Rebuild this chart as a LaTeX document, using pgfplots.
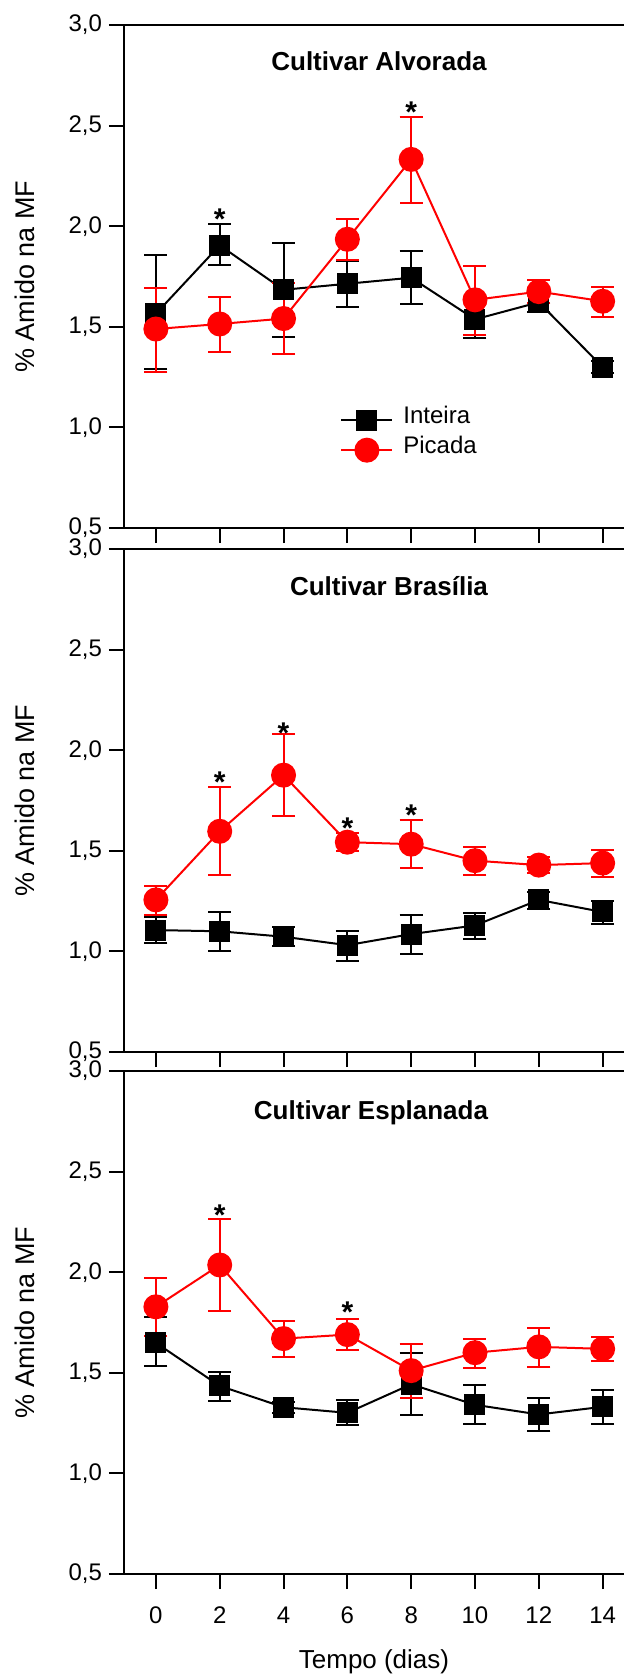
\documentclass[border=0pt]{standalone}
\usepackage{fontspec}
\setmainfont{Liberation Sans}
\usepackage{pgfplots}
\pgfplotsset{compat=1.18}
\pgfplotsset{
 panel/.style={
  scale only axis, width=250pt, height=251.5pt,
  xmin=-1, xmax=14.67, ymin=0.5, ymax=3.0, enlargelimits=false,
  axis lines=left, axis line style={-, line width=1pt},
  xtick={0,2,...,14}, ytick={0.5,1.0,1.5,2.0,2.5,3.0},
  tick align=outside, major tick length=7.5pt, tick style={line width=1pt, black},
  /pgf/number format/assume math mode=true,
  y tick label style={/pgf/number format/.cd, fixed, fixed zerofill, precision=1, use comma},
  tick label style={font=\fontsize{12}{14}\selectfont},
  ylabel={\% Amido na MF},
  ylabel style={font=\fontsize{13.5}{16}\selectfont, at={(axis description cs:-0.198,0.5)}, anchor=center},
  clip=false,
  extra description/.code={\draw[line width=1pt] (rel axis cs:0,1) -- (rel axis cs:1,1);},
 },
 inteira/.style={black, line width=1pt, mark=square*, mark size=4.75pt, mark options={solid, fill=black},
   error bars/.cd, y dir=both, y explicit, error bar style={line width=1pt},
   error mark options={rotate=90, mark size=5.75pt, line width=1pt}},
 picada/.style={red, line width=1pt, mark=*, mark size=5.75pt, mark options={solid, fill=red},
   error bars/.cd, y dir=both, y explicit, error bar style={line width=1pt},
   error mark options={rotate=90, mark size=5.75pt, line width=1pt}},
}
\tikzset{
 ast/.style={font=\bfseries\fontsize{15}{17}\selectfont, anchor=base, yshift=-8.7pt},
 ttl/.style={font=\bfseries\fontsize{13}{15}\selectfont},
}
\begin{document}
\begin{tikzpicture}
\path[use as bounding box] (-62pt,12.5pt) rectangle (250pt,-825.5pt);
% Panel 1
\begin{axis}[panel, at={(0pt,0pt)}, anchor=north west, xticklabels={},
  legend style={draw=none, fill=none, at={(rel axis cs:0.432,0.245)}, anchor=north west,
    inner sep=0pt, row sep=0pt, column sep=5pt,
    nodes={inner sep=0pt, text height=9pt, text depth=6pt, font=\fontsize{12}{14}\selectfont}},
  legend cell align=left,
  legend image code/.code={\draw[mark repeat=2,mark phase=2,#1] plot coordinates {(0pt,0pt) (12.75pt,0pt) (25.5pt,0pt)};}]
\addplot[inteira] coordinates {
 (0,1.565) += (0,0.29) -= (0,0.275)
 (2,1.905) += (0,0.105) -= (0,0.10)
 (4,1.684) += (0,0.235) -= (0,0.234)
 (6,1.714) += (0,0.115) -= (0,0.114)
 (8,1.744) += (0,0.132) -= (0,0.131)
 (10,1.537) += (0,0.095) -= (0,0.095)
 (12,1.622) += (0,0.05) -= (0,0.05)
 (14,1.30) += (0,0.03) -= (0,0.03)
};
\addlegendentry{Inteira}
\addplot[picada] coordinates {
 (0,1.489) += (0,0.204) -= (0,0.212)
 (2,1.514) += (0,0.136) -= (0,0.139)
 (4,1.541) += (0,0.176) -= (0,0.177)
 (6,1.935) += (0,0.102) -= (0,0.105)
 (8,2.332) += (0,0.209) -= (0,0.215)
 (10,1.634) += (0,0.166) -= (0,0.176)
 (12,1.675) += (0,0.056) -= (0,0.058)
 (14,1.627) += (0,0.073) -= (0,0.076)
};
\addlegendentry{Picada}
\node[ttl] at (rel axis cs:0.51,1) [yshift=-18pt] {Cultivar Alvorada};
\node[ast] at (axis cs:2,2.07) {*};
\node[ast] at (axis cs:8,2.60) {*};
\end{axis}
% Panel 2
\begin{axis}[panel, at={(0pt,-262pt)}, anchor=north west, xticklabels={}]
\addplot[inteira] coordinates {
 (0,1.106) += (0,0.067) -= (0,0.065)
 (2,1.10) += (0,0.095) -= (0,0.097)
 (4,1.073) += (0,0.047) -= (0,0.048)
 (6,1.031) += (0,0.069) -= (0,0.077)
 (8,1.086) += (0,0.097) -= (0,0.101)
 (10,1.129) += (0,0.064) -= (0,0.066)
 (12,1.256) += (0,0.041) -= (0,0.045)
 (14,1.196) += (0,0.057) -= (0,0.059)
};
\addplot[picada] coordinates {
 (0,1.256) += (0,0.069) -= (0,0.076)
 (2,1.597) += (0,0.218) -= (0,0.217)
 (4,1.876) += (0,0.203) -= (0,0.201)
 (6,1.543) += (0,0.044) -= (0,0.046)
 (8,1.533) += (0,0.119) -= (0,0.12)
 (10,1.451) += (0,0.069) -= (0,0.071)
 (12,1.429) += (0,0.038) -= (0,0.039)
 (14,1.439) += (0,0.066) -= (0,0.068)
};
\node[ttl] at (rel axis cs:0.53,1) [yshift=-18.5pt] {Cultivar Brasília};
\node[ast] at (axis cs:2,1.875) {*};
\node[ast] at (axis cs:4,2.12) {*};
\node[ast] at (axis cs:6,1.65) {*};
\node[ast] at (axis cs:8,1.71) {*};
\end{axis}
% Panel 3
\begin{axis}[panel, at={(0pt,-523pt)}, anchor=north west,
  x tick label style={yshift=-5.5pt},
  xlabel={Tempo (dias)},
  xlabel style={font=\fontsize{13}{15}\selectfont, at={(axis description cs:0.5,-0.175)}, anchor=center}]
\addplot[inteira] coordinates {
 (0,1.649) += (0,0.129) -= (0,0.116)
 (2,1.435) += (0,0.069) -= (0,0.073)
 (4,1.329) += (0,0.027) -= (0,0.029)
 (6,1.301) += (0,0.065) -= (0,0.061)
 (8,1.443) += (0,0.155) -= (0,0.154)
 (10,1.341) += (0,0.096) -= (0,0.097)
 (12,1.293) += (0,0.081) -= (0,0.08)
 (14,1.331) += (0,0.084) -= (0,0.083)
};
\addplot[picada] coordinates {
 (0,1.828) += (0,0.143) -= (0,0.146)
 (2,2.036) += (0,0.228) -= (0,0.228)
 (4,1.670) += (0,0.087) -= (0,0.09)
 (6,1.690) += (0,0.077) -= (0,0.079)
 (8,1.511) += (0,0.134) -= (0,0.135)
 (10,1.600) += (0,0.067) -= (0,0.075)
 (12,1.629) += (0,0.096) -= (0,0.1)
 (14,1.619) += (0,0.059) -= (0,0.062)
};
\node[ttl] at (rel axis cs:0.494,1) [yshift=-21pt] {Cultivar Esplanada};
\node[ast] at (axis cs:2,2.32) {*};
\node[ast] at (axis cs:6,1.835) {*};
\end{axis}
\end{tikzpicture}
\end{document}
